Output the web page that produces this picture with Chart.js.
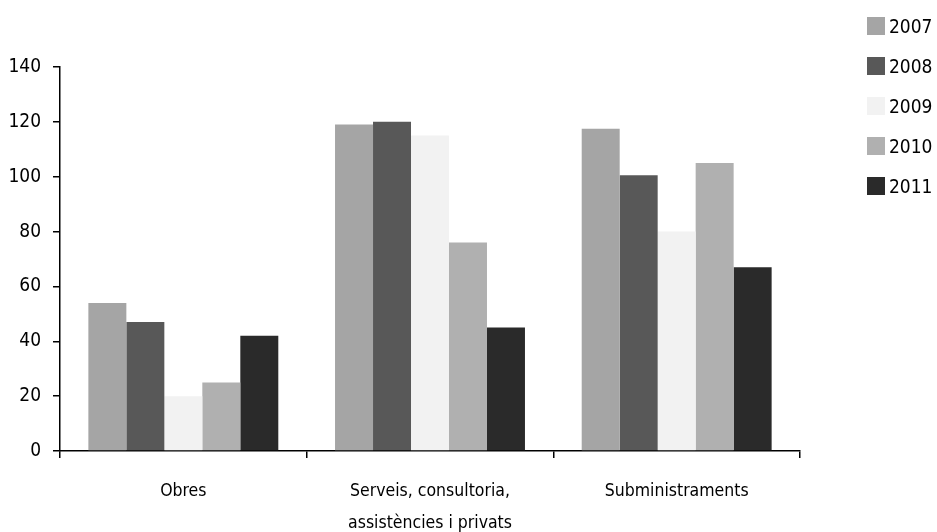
<!DOCTYPE html>
<html>
<head>
<meta charset="utf-8">
<script src="https://cdn.jsdelivr.net/npm/chart.js@4/dist/chart.umd.min.js"></script>
<style>
  html, body { margin: 0; padding: 0; background: #fff; }
  #wrap { position: relative; width: 937px; height: 532px; }
  #llegenda { position: absolute; left: 867px; top: 17px; font: 19px "DejaVu Sans Condensed", sans-serif; color: #000; }
  #llegenda div { height: 40px; display: flex; align-items: flex-start; }
  #llegenda span.box { display: inline-block; width: 18px; height: 18px; margin-right: 4px; }
  #llegenda span.txt { line-height: 18px; }
</style>
</head>
<body>
<div id="wrap"><canvas id="grafic"></canvas><div id="llegenda"></div></div>
<script>
// ================= DADES =================
const categories = ['Obres', ['Serveis, consultoria,', 'assistències i privats'], 'Subministraments'];
const anys = ['2007', '2008', '2009', '2010', '2011'];
const colors = ['#a5a5a5', '#585858', '#f2f2f2', '#b0b0b0', '#2a2a2a'];

const valors2007 = [54, 119, 117.5];
const valors2008 = [47, 120, 100.5];
const valors2009 = [20, 115, 80];
const valors2010 = [25, 76, 105];
const valors2011 = [42, 45, 67];

const yTicks = [0, 20, 40, 60, 80, 100, 120, 140];

const series = [valors2007, valors2008, valors2009, valors2010, valors2011];
const FONT = '"DejaVu Sans Condensed", sans-serif';

// ================= LLEGENDA =================
const llegenda = document.getElementById('llegenda');
anys.forEach((a, i) => {
  const row = document.createElement('div');
  row.innerHTML = `<span class="box" style="background:${colors[i]}"></span><span class="txt">${a}</span>`;
  llegenda.appendChild(row);
});

// ================= GRÀFIC =================
const ctx = document.getElementById('grafic').getContext('2d');
Chart.defaults.font.family = FONT;
Chart.defaults.font.size = 19;
Chart.defaults.color = '#000';

new Chart(ctx, {
  type: 'bar',
  data: {
    labels: categories,
    datasets: series.map((d, i) => ({
      label: anys[i],
      data: d,
      backgroundColor: colors[i],
      borderWidth: 0,
      categoryPercentage: 0.77,
      barPercentage: 1
    }))
  },
  options: {
    responsive: true,
    maintainAspectRatio: false,
    animation: false,
    layout: { padding: { top: 67, left: 0, right: 137, bottom: 0 } },
    plugins: {
      legend: { display: false },
      tooltip: { enabled: false }
    },
    scales: {
      x: {
        afterFit: axis => { axis.height = 81; },
        grid: { drawOnChartArea: false, tickLength: 7, color: '#000', lineWidth: 1.5 },
        border: { color: '#000', width: 1.5 },
        ticks: { padding: 17, font: { size: 17.5, lineHeight: 1.85 }, maxRotation: 0 }
      },
      y: {
        min: yTicks[0],
        max: yTicks[yTicks.length - 1],
        afterBuildTicks: axis => { axis.ticks = yTicks.map(v => ({ value: v })); },
        afterFit: axis => { axis.width = 60; },
        grid: { drawOnChartArea: false, tickLength: 7, color: '#000', lineWidth: 1.5 },
        border: { color: '#000', width: 1.5 },
        ticks: { padding: 12, font: { size: 19 } }
      }
    }
  }
});
</script>
</body>
</html>
